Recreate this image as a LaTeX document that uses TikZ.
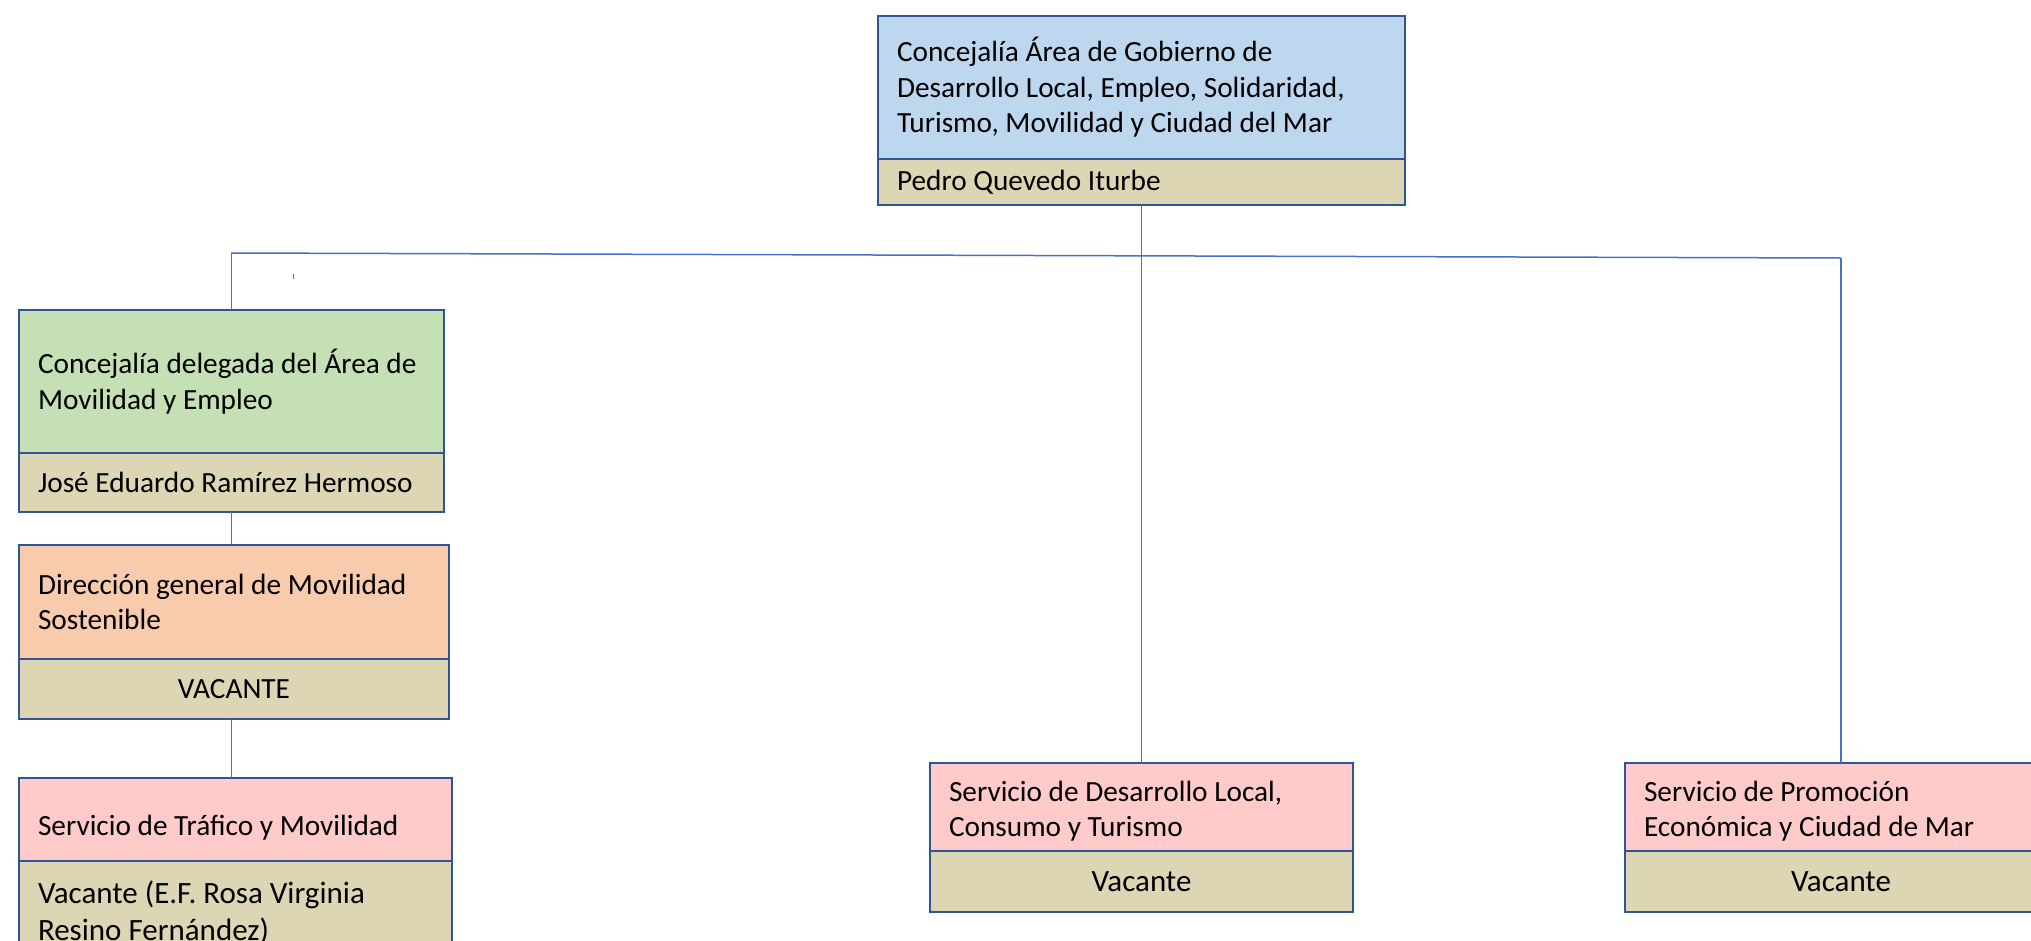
\documentclass[tikz,border=0pt]{standalone}
\usepackage{fontspec}
\setmainfont{Carlito}
\usetikzlibrary{positioning}

\definecolor{boxline}{HTML}{2F5597}
\definecolor{linkblue}{HTML}{4472C4}
\definecolor{areablue}{HTML}{BDD7EE}
\definecolor{areagreen}{HTML}{C5E0B4}
\definecolor{areaorange}{HTML}{F8CBAD}
\definecolor{areapink}{HTML}{FFCACA}
\definecolor{nametan}{HTML}{DDD6B4}

\begin{document}
\begin{tikzpicture}[x=1pt,y=-1pt,
  title node/.style={rectangle,draw=boxline,line width=2.5pt,outer sep=0pt,anchor=north west,
    inner xsep=19pt,inner ysep=0pt,align=flush left,font=\fontsize{29.3}{35.5}\selectfont},
  name node/.style={rectangle,draw=boxline,line width=2.5pt,outer sep=0pt,fill=nametan,
    inner xsep=19pt,inner ysep=0pt,font=\fontsize{29.3}{35.5}\selectfont},
  link/.style={draw=linkblue,line width=1.5pt}]

  \useasboundingbox (0,0) rectangle (2031,940);
  \clip (0,0) rectangle (2031,940);

  % area head
  \node[title node,fill=areablue,text width=489pt,minimum height=143pt] (topT) at (878,16)
    {Concejalía Área de Gobierno de\\Desarrollo Local, Empleo, Solidaridad,\\Turismo, Movilidad y Ciudad del Mar};
  \node[name node,align=flush left,text width=489pt,minimum height=46pt] (topN) [below=0pt of topT] {Pedro Quevedo Iturbe};

  % left branch
  \node[title node,fill=areagreen,text width=387pt,minimum height=143pt] (greenT) at (19,310)
    {Concejalía delegada del Área de\\Movilidad y Empleo};
  \node[name node,align=flush left,text width=387pt,minimum height=59pt] (greenN) [below=0pt of greenT] {José Eduardo Ramírez Hermoso};

  \node[title node,fill=areaorange,text width=392pt,minimum height=114pt] (orangeT) at (19,545)
    {Dirección general de Movilidad\\Sostenible};
  \node[name node,align=flush center,text width=392pt,minimum height=60pt] (orangeN) [below=0pt of orangeT] {VACANTE};

  \node[title node,fill=areapink,text width=395pt,text height=57pt,text depth=26pt] (pinkT) at (19,778)
    {Servicio de Tráfico y Movilidad};
  \node[name node,align=flush left,text width=395pt,text height=42pt,text depth=80pt,font=\fontsize{31}{37.5}\selectfont] (pinkN) [below=0pt of pinkT]
    {Vacante (E.F. Rosa Virginia\\Resino Fernández)};

  % middle and right
  \node[title node,fill=areapink,text width=385pt,text height=38pt,text depth=50pt] (midT) at (930,763)
    {Servicio de Desarrollo Local,\\Consumo y Turismo};
  \node[name node,align=flush center,text width=385pt,minimum height=61pt,font=\fontsize{31}{37.5}\selectfont] (midN) [below=0pt of midT] {Vacante};

  \node[title node,fill=areapink,text width=394pt,text height=38pt,text depth=50pt] (rightT) at (1625,763)
    {Servicio de Promoción\\Económica y Ciudad de Mar};
  \node[name node,align=flush center,text width=394pt,minimum height=61pt,font=\fontsize{31}{37.5}\selectfont] (rightN) [below=0pt of rightT] {Vacante};

  % connectors
  \coordinate (busL) at (231,253);
  \coordinate (busR) at (1841,258);
  \coordinate (tick) at (293,274);

  \draw[link] (busL) -- (busR);
  \draw[link] (greenT.north) -- (greenT.north |- busL);
  \draw[link] (busR) -- (busR |- rightT.north);
  \draw[link] (topN.south) -- (topN.south |- midT.north);
  \draw[link] (greenN.south) -- (greenN.south |- orangeT.north);
  \draw[link] (greenN.south |- orangeN.south) -- (greenN.south |- pinkT.north);
  \draw[link,line width=1pt] (tick) -- ++(0,5);
\end{tikzpicture}
\end{document}
